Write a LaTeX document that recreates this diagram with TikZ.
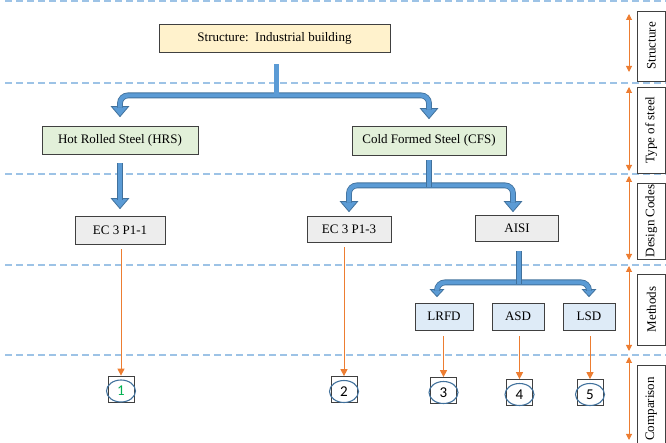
\documentclass[tikz,border=0pt]{standalone}
\usepackage{fontspec}
\setmainfont{Liberation Serif}
\newfontfamily\numfont{Carlito}
\usetikzlibrary{arrows.meta}
\definecolor{boxline}{HTML}{404040}
\definecolor{levelfill}{HTML}{FFF2CC}
\definecolor{steelfill}{HTML}{E2F0D9}
\definecolor{codefill}{HTML}{EDEDED}
\definecolor{methodfill}{HTML}{DEEBF7}
\definecolor{arrowfill}{HTML}{5B9BD5}
\definecolor{arrowedge}{HTML}{41719C}
\definecolor{linkorange}{HTML}{ED7D31}
\definecolor{levelline}{HTML}{9DC3E6}
\definecolor{numgreen}{HTML}{00B050}
\tikzset{
    box/.style={draw=boxline, line width=0.8pt, inner sep=0pt, minimum height=28pt, font=\fontsize{13}{15}\selectfont},
    numbox/.style={draw=boxline, line width=0.7pt, inner sep=0pt, minimum size=26pt, text height=14pt, text depth=0pt, font=\numfont\fontsize{15}{17}\selectfont},
    ring/.style={draw=arrowedge, line width=1.1pt},
    fatline/.style={draw=arrowedge, double=arrowfill, double distance=4.2pt, line width=0.8pt, rounded corners=8pt},
    fathead/.style={draw=arrowedge, fill=arrowfill, line width=0.8pt},
    thinlink/.style={draw=linkorange, line width=1pt, -{Triangle[width=7pt,length=7pt]}},
    sidelink/.style={draw=linkorange, line width=1pt, {Triangle[width=6pt,length=6pt]}-{Triangle[width=6pt,length=6pt]}},
    levelrule/.style={draw=levelline, line width=1.3pt, dash pattern=on 7pt off 4pt},
    sidebox/.style={draw=boxline, line width=0.8pt, inner sep=0pt, rotate=90, minimum height=28.6pt, font=\fontsize{13}{15}\selectfont},
}

\begin{document}
\begin{tikzpicture}[x=1pt, y=1pt]
\useasboundingbox (0,0) rectangle (666,443);

\foreach \y in {442,360,269,178,88}
    \draw[levelrule] (5,\y) -- (666,\y);

\node[box, fill=levelfill, minimum width=231pt] (str) at (274.5,405) {Structure:\ \ Industrial building};
\node[box, fill=steelfill, minimum width=156pt] (hrs) at (120,303) {Hot Rolled Steel (HRS)};
\node[box, fill=steelfill, minimum width=154pt, minimum height=29pt] (cfs) at (429,302.5) {Cold Formed Steel (CFS)};
\node[box, fill=codefill, minimum width=90pt] (ec1) at (120,213) {EC 3 P1-1};
\node[box, fill=codefill, minimum width=84pt, minimum height=26pt] (ec3) at (349,214) {EC 3 P1-3};
\node[box, fill=codefill, minimum width=83pt, minimum height=26pt] (aisi) at (517,215) {AISI};
\node[box, fill=methodfill, minimum width=58pt, minimum height=27pt] (lrfd) at (444,126.5) {LRFD};
\node[box, fill=methodfill, minimum width=52pt, minimum height=27pt] (asd) at (518,126.5) {ASD};
\node[box, fill=methodfill, minimum width=52pt, minimum height=27pt] (lsd) at (589,126.5) {LSD};

\node[numbox, text=numgreen] (c1) at (121,54) {1};
\node[numbox] (c2) at (344,53.5) {2};
\node[numbox] (c3) at (443.5,52.5) {3};
\node[numbox] (c4) at (519.5,50.5) {4};
\node[numbox] (c5) at (590,50.5) {5};
\foreach \c in {c1,c2,c3,c4,c5}
    \draw[ring] ([yshift=-2pt]\c.center) ellipse (14.5pt and 11pt);

% structure -> steel types
\filldraw[fathead] ([yshift=9]hrs.north) -- ++(-8.5,10) -- ++(17,0) -- cycle;
\filldraw[fathead] ([yshift=7]cfs.north) -- ++(-8.5,10) -- ++(17,0) -- cycle;
\draw[fatline] ([yshift=18]hrs.north) |- ([yshift=-43]str.south) -| ([yshift=16]cfs.north);
\draw[fatline] ([xshift=2,yshift=-12]str.south) -- ([xshift=2,yshift=-45]str.south);

\filldraw[fathead] ([yshift=7]ec1.north) -- ++(-8.5,10) -- ++(17,0) -- cycle;
\draw[fatline] ([yshift=-9]hrs.south) -- ([yshift=16]ec1.north);

\filldraw[fathead] ([yshift=4]ec3.north) -- ++(-8.5,10) -- ++(17,0) -- cycle;
\filldraw[fathead] ([xshift=-4,yshift=3]aisi.north) -- ++(-8.5,10) -- ++(17,0) -- cycle;
\draw[fatline] ([yshift=13]ec3.north) |- ([yshift=-30]cfs.south) -| ([xshift=-4,yshift=12]aisi.north);
\draw[fatline] ([yshift=-5]cfs.south) -- ([yshift=-32]cfs.south);

\filldraw[fathead] ([xshift=-7,yshift=6]lrfd.north) -- ++(-6.5,7) -- ++(13,0) -- cycle;
\filldraw[fathead] ([yshift=6]lsd.north) -- ++(-6.5,7) -- ++(13,0) -- cycle;
\draw[fatline] ([xshift=-7,yshift=12]lrfd.north) |- ([xshift=2,yshift=-41]aisi.south) -| ([yshift=12]lsd.north);
\draw[fatline] ([xshift=2,yshift=-10]aisi.south) -- ([xshift=2,yshift=-43]aisi.south);

% codes and methods -> comparison
\draw[thinlink] (c1.north |- ec1.south) ++(0,-5) -- (c1.north);
\draw[thinlink] (c2.north |- ec3.south) ++(0,-5) -- (c2.north);
\draw[thinlink] (c3.north |- lrfd.south) ++(0,-6) -- (c3.north);
\draw[thinlink] (c4.north |- asd.south) ++(0,-6) -- (c4.north);
\draw[thinlink] (c5.north |- lsd.south) ++(0,-6) -- (c5.north);

\foreach \ytop/\ybot in {429/371, 356/272, 267/183, 177/92, 86/3}
    \draw[sidelink] (629,\ytop) -- (629,\ybot);

\node[sidebox, minimum width=70pt] (lvstr) at (651.3,397) {Structure};
\node[sidebox, minimum width=86pt] (lvsteel) at (651.3,313) {Type of steel};
\node[sidebox, minimum width=76pt] (lvcode) at (651.3,222) {Design Codes};
\node[sidebox, minimum width=71pt] (lvmeth) at (651.3,133.5) {Methods};
\node[sidebox, minimum width=88pt] (lvcomp) at (651.3,34) {Comparison};
\end{tikzpicture}
\end{document}
